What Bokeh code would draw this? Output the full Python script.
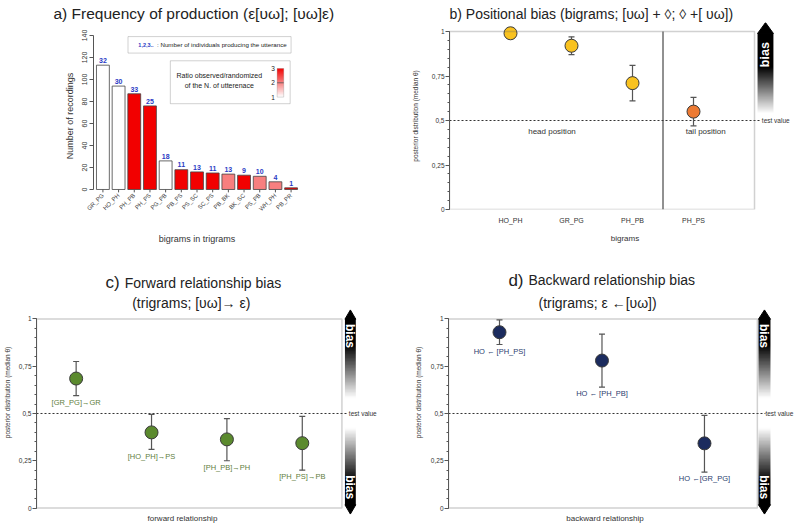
import math
import numpy as np
from bokeh.plotting import figure
from bokeh.layouts import column, row
from bokeh.models import (Range1d, FixedTicker, Label, BoxAnnotation,
                          LinearColorMapper, ColumnDataSource)
from bokeh.embed import file_html
from bokeh.resources import INLINE
from bokeh.core.properties import value

# ---------------- data ----------------
# a) frequency of production
bigrams = ["GR_PG", "HO_PH", "PH_PB", "PH_PS", "PG_PB", "PB_PS", "PS_SC",
           "SC_PS", "PB_BK", "BK_SC", "PS_PB", "WH_PH", "PB_PR"]
recordings = [113, 94, 87, 76, 26, 18, 16, 15, 14, 13, 12, 7, 1.5]
individuals = [32, 30, 33, 25, 18, 11, 13, 11, 13, 9, 10, 4, 1]
ratio_obs_rand = [1, 1, 3, 3, 1, 3, 3, 3, 2, 3, 2, 2, 3]

# b) positional bias
pos_labels = ["HO_PH", "GR_PG", "PH_PB", "PH_PS"]
pos_median = [0.99, 0.92, 0.71, 0.55]
pos_low = [0.985, 0.87, 0.61, 0.47]
pos_high = [0.995, 0.97, 0.81, 0.63]
pos_group = ["head", "head", "head", "tail"]

# c) forward relationship bias
fwd_labels = ["[GR_PG]\u2192GR", "[HO_PH]\u2192PS", "[PH_PB]\u2192PH", "[PH_PS]\u2192PB"]
fwd_median = [0.685, 0.40, 0.363, 0.343]
fwd_low = [0.595, 0.31, 0.25, 0.20]
fwd_high = [0.775, 0.495, 0.473, 0.485]

# d) backward relationship bias
bwd_labels = ["HO \u2190 [PH_PS]", "HO \u2190 [PH_PB]", "HO \u2190[GR_PG]"]
bwd_median = [0.93, 0.78, 0.342]
bwd_low = [0.865, 0.64, 0.19]
bwd_high = [0.995, 0.92, 0.49]

prob_ticks = [0, 0.25, 0.5, 0.75, 1]
prob_tick_labels = ["0", "0,25", "0,5", "0,75", "1"]

FONT = "Liberation Sans"
AX = "#555555"
TXT = "#333333"
TITLE_C = "#222222"


def base_fig(w, h, xr, yr, l, r, t, b, xaxis=True):
    kw = dict(width=w, height=h, x_range=xr, y_range=yr,
              output_backend="svg", toolbar_location=None,
              min_border_left=l, min_border_right=r,
              min_border_top=t, min_border_bottom=b)
    if not xaxis:
        kw["x_axis_location"] = None
    p = figure(**kw)
    p.outline_line_color = None
    p.xgrid.visible = False
    p.ygrid.visible = False
    p.background_fill_color = "white"
    p.border_fill_color = "white"
    return p


def set_title(p, text, offset, size="14px"):
    p.title.text = text
    p.title.align = "left"
    p.title.offset = offset
    p.title.standoff = 1
    p.title.text_font = FONT
    p.title.text_font_size = size
    p.title.text_font_style = "normal"
    p.title.text_color = TITLE_C


def in_title(p, x, y, letter, text):
    p.add_layout(Label(x=x, y=y, text=letter, text_align="right", text_baseline="middle",
                       x_offset=-5, text_font=FONT, text_font_size="17px",
                       text_color=TITLE_C))
    p.add_layout(Label(x=x, y=y, text=text, text_align="left", text_baseline="middle",
                       text_font=FONT, text_font_size="14px", text_color=TITLE_C))


def prob_yaxis(p, label, label_standoff):
    ax = p.yaxis[0]
    ax.bounds = (0, 1)
    ax.ticker = FixedTicker(ticks=prob_ticks,
                            minor_ticks=[i / 20 for i in range(21)])
    ax.major_label_overrides = {t: s for t, s in zip(prob_ticks, prob_tick_labels)}
    ax.axis_label = label
    ax.axis_label_text_font = FONT
    ax.axis_label_text_font_size = "6.5px"
    ax.axis_label_text_font_style = "normal"
    ax.axis_label_text_color = TXT
    ax.axis_label_standoff = label_standoff
    ax.major_label_text_font = FONT
    ax.major_label_text_font_size = "6.5px"
    ax.major_label_text_color = TXT
    ax.major_label_standoff = 1
    ax.axis_line_color = AX
    ax.major_tick_line_color = AX
    ax.minor_tick_line_color = AX
    ax.major_tick_out = 4
    ax.major_tick_in = 0
    ax.minor_tick_out = 2
    ax.minor_tick_in = 0


def gradient_body(p, x0, x1, y0, y1, fn):
    n = 240
    ys = np.linspace(y0, y1, n)
    lv = np.clip(fn(ys), 0, 255).astype(np.uint8)
    img = np.zeros((n, 1), dtype=np.uint32)
    v = img.view(dtype=np.uint8).reshape((n, 1, 4))
    v[:, 0, 0] = lv
    v[:, 0, 1] = lv
    v[:, 0, 2] = lv
    v[:, 0, 3] = 255
    p.image_rgba(image=[img], x=x0, y=y0, dw=x1 - x0, dh=y1 - y0)


def points(p, xs, med, lo, hi, colors):
    p.segment(x0=xs, y0=lo, x1=xs, y1=hi, line_color="#555555", line_width=1.2)
    p.scatter(x=xs + xs, y=lo + hi, marker="dash", size=6, line_color="#555555",
              line_width=1.2)
    p.scatter(x=xs, y=med, size=13, fill_color=colors, line_color="#3a3a3a",
              line_width=1)


def test_value(p, x0, x1, xt):
    p.segment(x0=[x0], y0=[0.5], x1=[x1], y1=[0.5], line_color="#333333", line_width=1,
              line_dash="2 2")
    p.add_layout(Label(x=xt, y=0.5, text="test value", text_font=FONT,
                       text_font_size="6.5px", text_color=TXT, text_baseline="middle"))


# ---------------- panel a ----------------
xa = list(range(len(bigrams)))
pa = base_fig(400, 260, Range1d(-0.6, 12.6), Range1d(-18.18, 151.8), 93, 100, 22, 51)
set_title(pa, "a)  Frequency of production (\u03b5[\u03c5\u03c9]; [\u03c5\u03c9]\u03b5)", -40,
          size="15.5px")
red_pal = ["#%02x%02x%02x" % (int(255 - (255 - 242) * t), int(255 * (1 - t)), int(255 * (1 - t)))
           for t in np.linspace(0, 1, 256)]
cmap = LinearColorMapper(palette=red_pal, low=1, high=3)
src_a = ColumnDataSource(dict(x=xa, top=recordings, ratio=ratio_obs_rand))
pa.vbar(x="x", top="top", width=0.82, bottom=0, source=src_a,
        fill_color={"field": "ratio", "transform": cmap},
        line_color="#444444", line_width=0.8)
pa.segment(x0=xa, y0=[0] * len(xa), x1=xa, y1=[-2.6] * len(xa), line_color=AX, line_width=1)
pa.text(x=xa, y=[r + 2 for r in recordings], text=[str(i) for i in individuals],
        text_font=value(FONT), text_font_size="7px", text_font_style="bold",
        text_color="#2a3bc4", text_align="center", text_baseline="bottom")

ax = pa.yaxis[0]
ax.bounds = (0, 140)
ax.ticker = FixedTicker(ticks=list(range(0, 141, 20)))
ax.major_label_orientation = "vertical"
ax.axis_label = "Number of recordings"
ax.axis_label_text_font = FONT
ax.axis_label_text_font_size = "9px"
ax.axis_label_text_font_style = "normal"
ax.axis_label_text_color = TXT
ax.axis_label_standoff = 5
ax.major_label_text_font = FONT
ax.major_label_text_font_size = "7px"
ax.major_label_text_color = TXT
ax.major_label_standoff = 2
ax.axis_line_color = AX
ax.major_tick_line_color = AX
ax.major_tick_out = 4
ax.major_tick_in = 0
ax.minor_tick_line_color = None

xax = pa.xaxis[0]
xax.ticker = FixedTicker(ticks=xa)
xax.major_label_overrides = {i: b for i, b in zip(xa, bigrams)}
xax.major_label_orientation = math.pi / 4
xax.major_label_text_font = FONT
xax.major_label_text_font_size = "6px"
xax.major_label_text_color = "#444444"
xax.major_label_standoff = -15
xax.axis_line_color = None
xax.major_tick_line_color = None
xax.major_tick_out = 0
xax.major_tick_in = 0
xax.minor_tick_line_color = None
xax.axis_label = "bigrams in trigrams"
xax.axis_label_text_font = FONT
xax.axis_label_text_font_size = "9px"
xax.axis_label_text_font_style = "normal"
xax.axis_label_text_color = TXT
xax.axis_label_standoff = 17

# legend boxes
pa.add_layout(BoxAnnotation(left=1.6, right=12.0, bottom=124, top=139, fill_alpha=0,
                            line_color="#666666", line_width=1))
pa.add_layout(Label(x=2.26, y=131.5, text="1,2,3..", text_font=FONT, text_font_size="5.5px",
                    text_font_style="bold", text_color="#2a3bc4", text_baseline="middle"))
pa.add_layout(Label(x=3.45, y=131.5, text=": Number of individuals producing the utterance",
                    text_font=FONT, text_font_size="6.2px", text_color="#222222",
                    text_baseline="middle"))
pa.add_layout(BoxAnnotation(left=4.3, right=11.94, bottom=78, top=117, fill_alpha=0,
                            line_color="#666666", line_width=1))
pa.add_layout(Label(x=7.42, y=103.5, text="Ratio observed/randomized", text_font=FONT,
                    text_font_size="7px", text_color="#222222", text_align="center",
                    text_baseline="middle"))
pa.add_layout(Label(x=7.42, y=94.5, text="of the N. of utterenace", text_font=FONT,
                    text_font_size="7px", text_color="#222222", text_align="center",
                    text_baseline="middle"))
pa.image(image=[np.linspace(1, 3, 100).reshape(100, 1)], x=11.11, y=84, dw=0.42, dh=26,
         color_mapper=cmap)
pa.add_layout(BoxAnnotation(left=11.11, right=11.53, bottom=84, top=110, fill_alpha=0,
                            line_color="#666666", line_width=0.8))
pa.segment(x0=[11.11], y0=[97], x1=[11.53], y1=[97], line_color="#555555", line_width=0.8)
for val, yy in zip(["3", "2", "1"], [110, 97, 84]):
    pa.add_layout(Label(x=10.85, y=yy, text=val, text_font=FONT, text_font_size="6.5px",
                        text_color="#222222", text_align="center", text_baseline="middle"))

# ---------------- panel b ----------------
xb = [1, 2, 3, 4]
pb = base_fig(400, 260, Range1d(0, 5.754), Range1d(0, 1.0506), 49, 0, 22, 51)
set_title(pb, "b)  Positional bias (bigrams; [\u03c5\u03c9] + \u25ca; \u25ca +[ \u03c5\u03c9])", 0)
prob_yaxis(pb, "posterior distribution (median \u03b8)", 10)
bx = pb.xaxis[0]
bx.ticker = FixedTicker(ticks=xb)
bx.major_label_overrides = {i: s for i, s in zip(xb, pos_labels)}
bx.major_label_text_font = FONT
bx.major_label_text_font_size = "7px"
bx.major_label_text_color = TXT
bx.major_label_standoff = 7
bx.axis_line_color = None
bx.major_tick_line_color = None
bx.major_tick_out = 0
bx.major_tick_in = 0
bx.minor_tick_line_color = None
bx.axis_label = "bigrams"
bx.axis_label_text_font = FONT
bx.axis_label_text_font_size = "8px"
bx.axis_label_text_font_style = "normal"
bx.axis_label_text_color = TXT
bx.axis_label_standoff = 7

pb.add_layout(BoxAnnotation(left=0, right=5, bottom=0, top=1, fill_alpha=0,
                            line_color="#666666", line_width=1.5))
pb.segment(x0=[3.5], y0=[0], x1=[3.5], y1=[1], line_color="#555555", line_width=1.3)
test_value(pb, 0, 5.11, 5.12)
gradient_body(pb, 5.05, 5.31, 0.52, 0.99,
              lambda y: 255 * (1 - np.clip((y - 0.54) / 0.26, 0, 1)))
pb.patch(x=[5.05, 5.18, 5.31], y=[0.989, 1.05, 0.989], fill_color="black", line_color="black")
pb.add_layout(Label(x=5.18, y=0.87, text="bias", angle=math.pi / 2, text_font=FONT,
                    text_font_size="12.5px", text_font_style="bold", text_color="white",
                    text_align="center", text_baseline="middle"))
pb.add_layout(Label(x=1.68, y=0.44, text="head position", text_font=FONT,
                    text_font_size="8px", text_color=TXT, text_align="center",
                    text_baseline="middle"))
pb.add_layout(Label(x=4.2, y=0.44, text="tail position", text_font=FONT,
                    text_font_size="8px", text_color=TXT, text_align="center",
                    text_baseline="middle"))
points(pb, xb, pos_median, pos_low, pos_high,
       ["#f9c21f" if g == "head" else "#ec7a33" for g in pos_group])


def double_arrow(p, x0, x1):
    gradient_body(p, x0, x1, 0.016, 1.0,
                  lambda y: 255 * (1 - np.clip((np.abs(y - 0.5) - 0.08) / 0.28, 0, 1)))
    xm = (x0 + x1) / 2
    p.patch(x=[x0, xm, x1], y=[0.999, 1.048, 0.999], fill_color="black", line_color="black")
    p.patch(x=[x0, xm, x1], y=[0.017, -0.032, 0.017], fill_color="black", line_color="black")
    for yy in (0.91, 0.11):
        p.add_layout(Label(x=xm, y=yy, text="bias", angle=-math.pi / 2, text_font=FONT,
                           text_font_size="12px", text_font_style="bold", text_color="white",
                           text_align="center", text_baseline="middle"))


# ---------------- panel c ----------------
xc = [1, 2, 3, 4]
pc = base_fig(400, 264, Range1d(0.474, 5.303), Range1d(-0.0873, 1.3095), 33, 0, 0, 0,
              xaxis=False)
prob_yaxis(pc, "posterior distribution (median \u03b8)", 5)
pc.add_layout(BoxAnnotation(left=0.474, right=4.526, bottom=0, top=1, fill_alpha=0,
                            line_color="#666666", line_width=1.5))
double_arrow(pc, 4.566, 4.71)
test_value(pc, 0.474, 4.605, 4.618)
points(pc, xc, fwd_median, fwd_low, fwd_high, ["#5b8a2e"] * 4)
pc.text(x=xc, y=[v - 0.012 for v in fwd_low], text=fwd_labels, text_font=value(FONT),
        text_font_size="7.5px", text_color="#5f8040", text_align="center",
        text_baseline="top")
pc.add_layout(Label(x=2.41, y=-0.056, text="forward relationship", text_font=FONT,
                    text_font_size="8px", text_color=TXT, text_align="center",
                    text_baseline="middle"))
in_title(pc, 1.645, 1.193, "c)", "Forward relationship bias")
pc.add_layout(Label(x=2.527, y=1.087, text="(trigrams; [\u03c5\u03c9]\u2192 \u03b5)",
                    text_font=FONT, text_font_size="14px", text_color=TITLE_C,
                    text_align="center", text_baseline="middle"))

# ---------------- panel d ----------------
xd = [1, 2, 3]
pd_ = base_fig(400, 264, Range1d(0.5024, 3.937), Range1d(-0.0873, 1.3095), 48, 0, 0, 0,
               xaxis=False)
prob_yaxis(pd_, "posterior distribution (median \u03b8)", 6)
pd_.add_layout(BoxAnnotation(left=0.5024, right=3.516, bottom=0, top=1, fill_alpha=0,
                             line_color="#666666", line_width=1.5))
double_arrow(pd_, 3.527, 3.644)
test_value(pd_, 0.5024, 3.595, 3.595)
points(pd_, xd, bwd_median, bwd_low, bwd_high, ["#1b2b5e"] * 3)
pd_.text(x=xd, y=[v - 0.012 for v in bwd_low], text=bwd_labels, text_font=value(FONT),
         text_font_size="7.5px", text_color="#2a3d6e", text_align="center",
         text_baseline="top")
pd_.add_layout(Label(x=2.03, y=-0.056, text="backward relationship", text_font=FONT,
                     text_font_size="8px", text_color=TXT, text_align="center",
                     text_baseline="middle"))
in_title(pd_, 1.283, 1.204, "d)", "Backward relationship bias")
pd_.add_layout(Label(x=1.957, y=1.087, text="(trigrams; \u03b5 \u2190[\u03c5\u03c9])",
                     text_font=FONT, text_font_size="14px", text_color=TITLE_C,
                     text_align="center", text_baseline="middle"))

layout = column(row(pa, pb), row(pc, pd_))
open("out.html", "w").write(file_html(layout, INLINE))
